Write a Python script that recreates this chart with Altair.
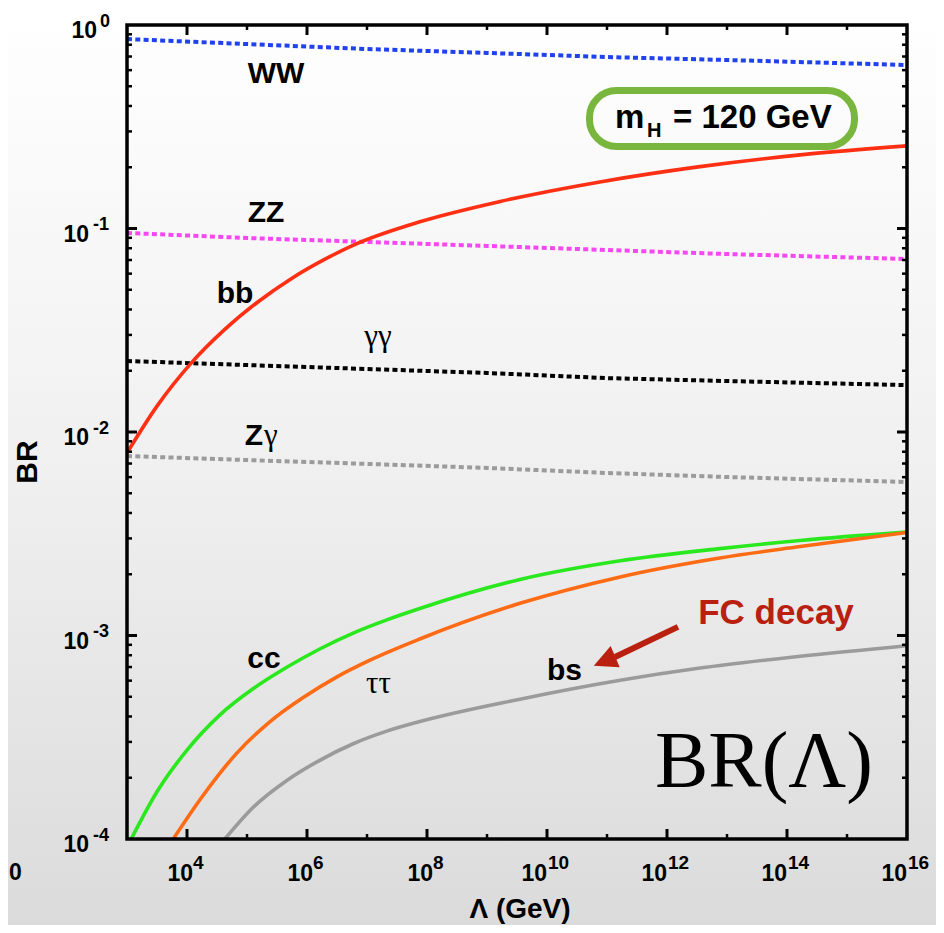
import altair as alt
import pandas as pd

W, H = 780, 814
SANS = "Liberation Sans, Arial, Helvetica, sans-serif"
SERIF = "Liberation Serif, Times New Roman, serif"

# ---------------- data ----------------
# dotted (bosonic) channels, sampled at these Lambda values (GeV)
lam_dot = [1e3, 1e5, 1e7, 1e9, 1e11, 1e13, 1e16]
br_WW = [0.853, 0.806, 0.762, 0.729, 0.696, 0.673, 0.636]
br_ZZ = [0.0951, 0.0898, 0.0859, 0.0821, 0.0784, 0.0749, 0.0708]
br_gg = [0.02233, 0.02133, 0.0204, 0.0195, 0.0184, 0.0178, 0.0170]
br_Zg = [0.00762, 0.00728, 0.00697, 0.00666, 0.00629, 0.00601, 0.00568]

# solid (fermionic) channels: log10(Lambda/GeV) and BR
bb_exp = [3.0, 3.5, 4.08, 4.63, 5.18, 5.75, 6.3, 6.85, 7.88, 9.22, 10.88, 12.55, 14.22, 16.0]
br_bb = [0.00789, 0.01340, 0.02198, 0.03192, 0.04355, 0.05702, 0.07071, 0.08472, 0.1079,
         0.1358, 0.1694, 0.2014, 0.2301, 0.2547]

cc_exp = [3.07, 3.5, 4.0, 4.55, 5.1, 5.67, 6.22, 6.77, 7.33, 7.88, 9.55, 11.22, 12.88, 14.22, 16.0]
br_cc = [1.0e-4, 1.706e-4, 2.735e-4, 4.074e-4, 5.470e-4, 6.998e-4, 8.610e-4, 1.028e-3,
         1.194e-3, 1.358e-3, 1.884e-3, 2.328e-3, 2.673e-3, 2.931e-3, 3.221e-3]

tt_exp = [3.77, 4.27, 4.83, 5.38, 5.93, 6.5, 7.05, 7.88, 9.55, 11.22, 12.88, 14.22, 16.0]
br_tt = [1.0e-4, 1.641e-4, 2.642e-4, 3.767e-4, 4.943e-4, 6.266e-4, 7.568e-4, 9.616e-4,
         1.439e-3, 1.941e-3, 2.404e-3, 2.735e-3, 3.206e-3]

bs_exp = [4.63, 5.1, 5.67, 6.22, 6.77, 7.33, 7.88, 9.55, 11.22, 12.55, 14.22, 16.0]
br_bs = [1.0e-4, 1.429e-4, 1.945e-4, 2.443e-4, 2.938e-4, 3.388e-4, 3.776e-4, 4.864e-4,
         6.026e-4, 6.918e-4, 7.907e-4, 8.913e-4]

# tick labels
x_major = [1e4, 1e6, 1e8, 1e10, 1e12, 1e14]
x_minor = [1e5, 1e7, 1e9, 1e11, 1e13, 1e15]
x_lab1_val, x_lab1_exp = [1e4, 1e6, 1e8], ["4", "6", "8"]
x_lab2_val, x_lab2_exp = [1e10, 1e12, 1e14, 1e16], ["10", "12", "14", "16"]
y_major = [1e-3, 1e-2, 1e-1]
y_minor = [m * 10.0 ** e for e in range(-4, 0) for m in range(2, 10)]
y_lab0_val, y_lab0_exp = [1.0], ["0"]
y_lab1_val, y_lab1_exp = [1e-1, 1e-2, 1e-3, 1e-4], ["-1", "-2", "-3", "-4"]

# channel labels (log10 Lambda, BR at baseline)
bold_lab = ["WW", "ZZ", "bb", "cc", "bs"]
bold_exp = [5.483, 5.317, 4.8, 5.283, 10.29]
bold_br = [0.519, 0.1076, 0.043, 6.92e-4, 6.04e-4]
greek_lab = ["γγ", "ττ"]
greek_exp = [7.183, 7.19]
greek_br = [0.0265, 5.21e-4]
zg_exp, zg_br = 5.267, 0.00863

# annotations
box_exp = [10.708, 15.125]
box_br = [0.4766, 0.2529]
mH_parts = [("m", 11.133, 0.312, 33), ("H", 11.667, 0.2816, 20), ("= 120 GeV", 12.1, 0.312, 33)]
fc_exp, fc_br = 13.817, 1.14e-3
arrow_tail = (12.183, 1.102e-3)
arrow_base = (11.133, 7.84e-4)
arrow_head = (10.958, 7.48e-4)
brl_exp, brl_br = 11.8, 1.803e-4

# ---------------- chart ----------------
xs = alt.Scale(type="log", domain=[1e3, 1e16])
ys = alt.Scale(type="log", domain=[1e-4, 1])
X = alt.X("lam:Q", scale=xs, axis=None)
Y = alt.Y("br:Q", scale=ys, axis=None)
one = pd.DataFrame({"a": [0]})

layers = []

# page background gradient
grad = {"gradient": "linear", "x1": 0, "y1": 0, "x2": 0, "y2": 1,
        "stops": [{"offset": 0, "color": "#ffffff"},
                  {"offset": 0.5, "color": "#f0f0f0"},
                  {"offset": 1, "color": "#dbdbdb"}]}
layers.append(alt.Chart(one).mark_rect(fill=grad).encode(
    x=alt.value(-119), x2=alt.value(W + 29), y=alt.value(-17), y2=alt.value(H + 86)))

# green rounded box
box_df = pd.DataFrame({"lam": [10 ** box_exp[0]], "lam2": [10 ** box_exp[1]],
                       "br": [box_br[0]], "br2": [box_br[1]]})
layers.append(alt.Chart(box_df).mark_rect(cornerRadius=27, fillOpacity=0, stroke="#79b63e",
                                          strokeWidth=7).encode(
    x=X, x2="lam2:Q", y=Y, y2="br2:Q"))

dash = [5, 3.3]
dotted = [(br_WW, "#1f42ee"), (br_ZZ, "#f548f2"), (br_gg, "#000000"), (br_Zg, "#9b9b9b")]
for vals, col in dotted:
    df = pd.DataFrame({"lam": lam_dot, "br": vals})
    layers.append(alt.Chart(df).mark_line(color=col, strokeWidth=4, strokeDash=dash,
                                          clip=True).encode(x=X, y=Y))

solid = [(bb_exp, br_bb, "#ff2f14"), (cc_exp, br_cc, "#2ae81e"),
         (tt_exp, br_tt, "#ff6a14"), (bs_exp, br_bs, "#9b9b9b")]
for ex, vals, col in solid:
    df = pd.DataFrame({"lam": [10 ** e for e in ex], "br": vals})
    layers.append(alt.Chart(df).mark_line(color=col, strokeWidth=3.6, interpolate="monotone",
                                          clip=True).encode(x=X, y=Y))

# channel labels
bdf = pd.DataFrame({"lam": [10 ** e for e in bold_exp], "br": bold_br, "t": bold_lab})
layers.append(alt.Chart(bdf).mark_text(font=SANS, fontWeight="bold", fontSize=30,
                                       align="center", baseline="alphabetic").encode(
    x=X, y=Y, text="t:N"))
gdf = pd.DataFrame({"lam": [10 ** e for e in greek_exp], "br": greek_br, "t": greek_lab})
layers.append(alt.Chart(gdf).mark_text(font=SERIF, fontSize=31, align="center",
                                       baseline="alphabetic").encode(x=X, y=Y, text="t:N"))
zdf = pd.DataFrame({"lam": [10 ** zg_exp], "br": [zg_br]})
layers.append(alt.Chart(zdf).mark_text(text="Z", font=SANS, fontWeight="bold", fontSize=30,
                                       align="right", baseline="alphabetic").encode(x=X, y=Y))
layers.append(alt.Chart(zdf).mark_text(text="γ", font=SERIF, fontSize=31, align="left",
                                       baseline="alphabetic", dx=1).encode(x=X, y=Y))

# m_H label
for txt, e, b, fs in mH_parts:
    d = pd.DataFrame({"lam": [10 ** e], "br": [b]})
    layers.append(alt.Chart(d).mark_text(text=txt, font=SANS, fontWeight="bold", fontSize=fs,
                                         align="left", baseline="alphabetic").encode(x=X, y=Y))

# FC decay annotation and arrow
fcol = "#b9200f"
fdf = pd.DataFrame({"lam": [10 ** fc_exp], "br": [fc_br]})
layers.append(alt.Chart(fdf).mark_text(text="FC decay", font=SANS, fontWeight="bold",
                                       fontSize=35, align="center", baseline="alphabetic",
                                       color=fcol).encode(x=X, y=Y))
adf = pd.DataFrame({"lam": [10 ** arrow_tail[0]], "br": [arrow_tail[1]],
                    "lam2": [10 ** arrow_base[0]], "br2": [arrow_base[1]]})
layers.append(alt.Chart(adf).mark_rule(color=fcol, strokeWidth=6).encode(
    x=X, x2="lam2:Q", y=Y, y2="br2:Q"))
hdf = pd.DataFrame({"lam": [10 ** arrow_head[0]], "br": [arrow_head[1]]})
layers.append(alt.Chart(hdf).mark_point(shape="M0,-1L1,1L-1,1Z", size=540, angle=247,
                                        filled=True, color=fcol, opacity=1).encode(x=X, y=Y))

# BR(Lambda) big label
ldf = pd.DataFrame({"lam": [10 ** brl_exp], "br": [brl_br]})
layers.append(alt.Chart(ldf).mark_text(text="BR(Λ)", font=SERIF, fontSize=80, align="left",
                                       baseline="alphabetic").encode(x=X, y=Y))

# frame
layers.append(alt.Chart(one).mark_rect(fillOpacity=0, stroke="black", strokeWidth=3.5).encode(
    x=alt.value(0), x2=alt.value(W), y=alt.value(0), y2=alt.value(H)))

# inward ticks
def xticks(vals, ln, sw):
    d = pd.DataFrame({"lam": vals})
    return [alt.Chart(d).mark_rule(color="black", strokeWidth=sw).encode(
                x=X, y=alt.value(H), y2=alt.value(H - ln)),
            alt.Chart(d).mark_rule(color="black", strokeWidth=sw).encode(
                x=X, y=alt.value(0), y2=alt.value(ln))]

def yticks(vals, ln, sw):
    d = pd.DataFrame({"br": vals})
    return [alt.Chart(d).mark_rule(color="black", strokeWidth=sw).encode(
                y=Y, x=alt.value(0), x2=alt.value(ln)),
            alt.Chart(d).mark_rule(color="black", strokeWidth=sw).encode(
                y=Y, x=alt.value(W), x2=alt.value(W - ln))]

layers += xticks(x_major, 10, 3) + xticks(x_minor, 5, 2.5)
layers += yticks(y_major, 10, 3) + yticks(y_minor, 5, 2.5)

# tick labels
def xlabels(vals, exps, dx10, dxe):
    d = pd.DataFrame({"lam": vals, "e": exps})
    return [alt.Chart(d).mark_text(text="10", font=SANS, fontWeight="bold", fontSize=23,
                                   align="right", baseline="alphabetic", dx=dx10).encode(
                x=X, y=alt.value(H + 42)),
            alt.Chart(d).mark_text(font=SANS, fontWeight="bold", fontSize=19, align="left",
                                   baseline="alphabetic", dx=dxe).encode(
                x=X, y=alt.value(H + 30), text="e:N")]

def ylabels(vals, exps, x10, xe):
    d = pd.DataFrame({"br": vals, "e": exps})
    return [alt.Chart(d).mark_text(text="10", font=SANS, fontWeight="bold", fontSize=23,
                                   align="right", baseline="alphabetic", dy=13).encode(
                y=Y, x=alt.value(x10)),
            alt.Chart(d).mark_text(font=SANS, fontWeight="bold", fontSize=18, align="right",
                                   baseline="alphabetic", dy=1.5).encode(
                y=Y, x=alt.value(xe), text="e:N")]

layers += xlabels(x_lab1_val, x_lab1_exp, 6, 6) + xlabels(x_lab2_val, x_lab2_exp, 0, 1)
layers += ylabels(y_lab0_val, y_lab0_exp, -30, -17) + ylabels(y_lab1_val, y_lab1_exp, -38, -18)

# axis titles
layers.append(alt.Chart(one).mark_text(text="Λ (GeV)", font=SANS, fontWeight="bold",
                                       fontSize=28, align="center", baseline="alphabetic").encode(
    x=alt.value(393), y=alt.value(H + 79)))
layers.append(alt.Chart(one).mark_text(text="BR", font=SANS, fontWeight="bold", fontSize=30,
                                       align="center", baseline="alphabetic", angle=270).encode(
    x=alt.value(-90), y=alt.value(437)))
# fragment of a neighbouring label at the bottom left edge
layers.append(alt.Chart(one).mark_text(text="0", font=SANS, fontWeight="bold", fontSize=23,
                                       align="left", baseline="alphabetic").encode(
    x=alt.value(-118), y=alt.value(H + 41)))

chart = alt.layer(*layers).properties(
    width=W, height=H,
    autosize=alt.AutoSizeParams(type="none"),
    padding={"left": 119, "top": 17, "right": 29, "bottom": 86},
).configure_view(strokeWidth=0).configure(background="#ffffff")

chart.save("out.html", embed_options={"renderer": "svg", "actions": False})
